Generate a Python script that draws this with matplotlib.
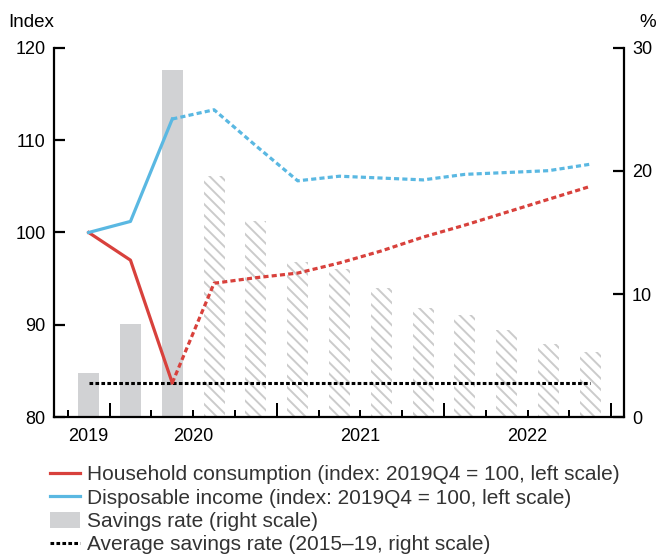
import numpy as np
import matplotlib
matplotlib.use("Agg")
import matplotlib.pyplot as plt
import matplotlib.transforms as mtransforms
from matplotlib.lines import Line2D
from matplotlib.patches import Patch

plt.rcParams['font.family'] = ['Liberation Sans', 'DejaVu Sans']
plt.rcParams['hatch.linewidth'] = 1.4
plt.rcParams['hatch.color'] = '#cbcbcb'

# Quarters from 2019Q4 to 2022Q4 (index 0 = 2019Q4)
quarters = ['2019Q4', '2020Q1', '2020Q2', '2020Q3', '2020Q4', '2021Q1', '2021Q2',
            '2021Q3', '2021Q4', '2022Q1', '2022Q2', '2022Q3', '2022Q4']
consumption = [100.0, 97.0, 83.7, 94.5, 95.1, 95.6, 96.7, 98.0, 99.5, 100.8, 102.2, 103.6, 105.0]
income = [100.0, 101.2, 112.3, 113.3, 109.4, 105.6, 106.1, 105.9, 105.7, 106.3, 106.5, 106.7, 107.4]
savings = [3.6, 7.6, 28.2, 19.6, 15.9, 12.6, 12.0, 10.5, 8.9, 8.3, 7.1, 5.9, 5.3]
avg_savings = 2.75
n_actual = 3  # first three quarters are outturns, rest projections
years = ['2019', '2020', '2021', '2022']
year_pos = [0, 2.5, 6.5, 10.5]

red = '#d8413c'
blue = '#5ab8e2'
grey = '#d1d2d4'
dots = (0, (1.6, 1.0))
dashes = (0, (1.2, 0.75))

x = np.arange(len(quarters))
quarter_edges = np.arange(-0.5, 13, 1.0)
year_edges = [0.5, 4.5, 8.5, 12.5]

fig = plt.figure(figsize=(6.58, 5.55), dpi=100)
ax = fig.add_axes([0.082, 0.2486, 0.866, 0.665])
ax2 = ax.twinx()
ax.set_zorder(ax2.get_zorder() + 1)
ax.patch.set_visible(False)

# savings bars on the right scale
ax2.bar(x[:n_actual], savings[:n_actual], width=0.5, color=grey, linewidth=0)
ax2.bar(x[n_actual:], savings[n_actual:], width=0.5, color='white',
        hatch='\\\\\\', edgecolor='#cbcbcb', linewidth=0)
ax2.plot(x, [avg_savings] * len(x), color='black', linestyle=dashes, lw=2.2)

# lines on the left scale
ax.plot(x[:n_actual], consumption[:n_actual], color=red, lw=2.3)
ax.plot(x[n_actual - 1:], consumption[n_actual - 1:], color=red, lw=2.3, linestyle=dots)
ax.plot(x[:n_actual], income[:n_actual], color=blue, lw=2.3)
ax.plot(x[n_actual - 1:], income[n_actual - 1:], color=blue, lw=2.3, linestyle=dots)

ax.set_xlim(-0.83, 12.8)
ax.set_ylim(80, 120)
ax2.set_ylim(0, 30)
ax.set_yticks([80, 90, 100, 110, 120])
ax2.set_yticks([0, 10, 20, 30])

# x axis: year boundaries tall ticks, quarter boundaries short ticks
ax.set_xticks(year_edges)
ax.set_xticklabels([])
ax.set_xticks(quarter_edges, minor=True)
ax.tick_params(axis='x', which='major', direction='in', length=10, width=1.4)
ax.tick_params(axis='x', which='minor', direction='in', length=5, width=1.4)
fig.canvas.draw()

for a in (ax, ax2):
    a.spines['top'].set_visible(False)
ax.spines['right'].set_visible(False)
ax2.spines['left'].set_visible(False)
ax2.spines['bottom'].set_visible(False)
for s in ('left', 'bottom'):
    ax.spines[s].set_linewidth(1.6)
ax2.spines['right'].set_linewidth(1.6)

ax.tick_params(axis='y', direction='in', length=8, width=1.6, labelsize=13, pad=6)
ax2.tick_params(axis='y', direction='in', length=8, width=1.6, labelsize=13, pad=6)
fig.canvas.draw()

# tick marks again as figure-level markers, on top of everything
xt = mtransforms.blended_transform_factory(ax.transData, ax.transAxes)
fig.add_artist(Line2D(quarter_edges, np.zeros(len(quarter_edges)), ls='none', marker=2,
                      ms=5, mew=1.4, color='black', transform=xt, zorder=10))
fig.add_artist(Line2D(year_edges, np.zeros(len(year_edges)), ls='none', marker=2,
                      ms=10, mew=1.4, color='black', transform=xt, zorder=10))

# year labels centred on each year's span
for yp, yl in zip(year_pos, years):
    ax.text(yp, -0.03, yl, transform=xt, ha='center', va='top', fontsize=13)

fig.text(0.012, 0.945, 'Index', fontsize=13.5, va='bottom')
fig.text(0.997, 0.945, '%', fontsize=13.5, va='bottom', ha='right')

handles = [
    Line2D([], [], color=red, lw=2.3),
    Line2D([], [], color=blue, lw=2.3),
    Patch(facecolor=grey, linewidth=0),
    Line2D([], [], color='black', lw=2.2, linestyle=dashes),
]
labels = [
    'Household consumption (index: 2019Q4 = 100, left scale)',
    'Disposable income (index: 2019Q4 = 100, left scale)',
    'Savings rate (right scale)',
    'Average savings rate (2015\u201319, right scale)',
]
fig.legend(handles, labels, loc='upper left', bbox_to_anchor=(0.076, 0.162),
           frameon=False, fontsize=15, handlelength=1.45, handleheight=0.8,
           handletextpad=0.33, labelspacing=0.2, borderaxespad=0, borderpad=0,
           labelcolor='#333333')

fig.savefig('out.png', dpi=100)
